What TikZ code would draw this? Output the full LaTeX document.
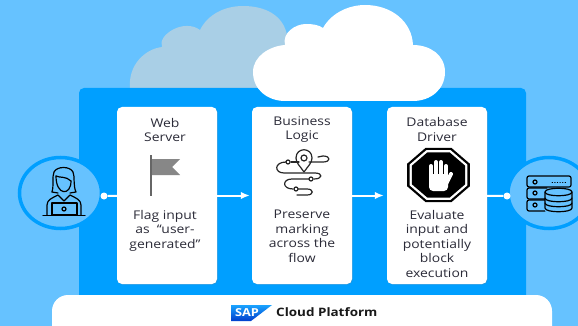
\documentclass[tikz,border=0pt]{standalone}
\usepackage{fontspec}
\setmainfont[FakeStretch=1.16]{Open Sans}
\usetikzlibrary{arrows.meta,shadows}

\definecolor{skyblue}{HTML}{66C2FF}
\definecolor{panelblue}{HTML}{009FFF}
\definecolor{paleblue}{HTML}{A9CFE6}
\definecolor{inkgrey}{HTML}{2B2B38}

\newcommand{\octagon}[3]{\fill [#1, shift={(438.5,175)}] (22.5:#2 and #3)
  \foreach \a in {67.5,112.5,...,337.5} {-- (\a:#2 and #3)} -- cycle;}

\tikzset{
 >={Latex[length=9pt,width=7.5pt]},
 card/.style={draw=none, fill=white, rounded corners=5pt, minimum width=100pt, minimum height=177pt,
   inner sep=0pt, drop shadow={shadow xshift=.6pt, shadow yshift=-.6pt, opacity=.3}},
 round end/.style={draw=panelblue, line width=3.5pt, fill=skyblue},
 head/.style={align=center, text=inkgrey, font=\fontsize{12}{14.6}\selectfont},
 blurb/.style={align=center, text=inkgrey, anchor=north, font=\fontsize{12}{14.6}\selectfont},
 flow/.style={draw=white, line width=2pt},
 dot/.style={circle, fill=white, inner sep=0pt, minimum size=7pt},
 icon/.style={draw=black, line width=1.2pt, line cap=round, line join=round}
}

\begin{document}
\begin{tikzpicture}[x=1pt,y=-1pt]

 \clip (0,0) rectangle (578,326);
 \fill [skyblue] (0,0) rectangle (578,326);

% Clouds
 \fill [paleblue] (130,88) .. controls (128,65) and (145,49) .. (162,47)
   .. controls (157,35) and (184,18) .. (200,30)
   .. controls (208,14) and (225,6) .. (243,6)
   .. controls (265,6) and (283,15) .. (287,35) -- (287,88) -- cycle;

% Panel
 \fill [panelblue, rounded corners=5pt] (79,88) rectangle (526,310);

 \fill [white] (285,101) .. controls (268,101) and (253,90) .. (253,72)
   .. controls (253,56) and (270,46) .. (285,45)
   .. controls (282,33) and (295,24) .. (306,24)
   .. controls (313,24) and (319,25) .. (323,28)
   .. controls (332,12) and (350,5) .. (365,5)
   .. controls (392,5) and (412,22) .. (413,45)
   .. controls (430,45) and (445,55) .. (445,72)
   .. controls (445,90) and (430,101) .. (413,101) -- cycle;

% Ends
 \draw [round end] (60.5,193) ellipse (41 and 35.5);
 \draw [round end] (549,193) ellipse (41 and 35.5);

% Cards
 \node [card] (Web) at (167,195.5) {};
 \node [card] (Logic) at (302,195.5) {};
 \node [card] (Driver) at (437,195.5) {};

 \node [head] (WebHead) at (165,130) {Web\\Server};
 \node [head] (LogicHead) at (302,129.5) {Business\\Logic};
 \node [head] (DriverHead) at (437,129.5) {Database\\Driver};

 \node [blurb] (WebText) at (165,206.5) {Flag input\\as\ \ “user-\\generated”};
 \node [blurb] (LogicText) at (302,206.5) {Preserve\\marking\\across the\\flow};
 \node [blurb] (DriverText) at (437,206.5) {Evaluate\\input and\\potentially\\block\\execution};

% Arrows
 \node [dot] (UserDot) at (104,196) {};
 \node [dot] (DataDot) at (507,196) {};
 \draw [flow] (UserDot) -- (Web);
 \draw [flow, ->, shorten >=2pt] (Web) -- (Logic);
 \draw [flow, ->, shorten >=3pt] (Logic) -- (Driver);
 \draw [flow] (Driver) -- (DataDot);

% Flag
 \fill [black!60] (149.5,155) rectangle (152,196);
 \fill [black!47] (152,159) -- (180,159) -- (172,167) -- (180,175) -- (152,175) -- cycle;

% Pin and route
 \draw [icon, draw=black!85] (304,172) .. controls (300,166) and (296,163) .. (296,158)
   .. controls (296,147) and (312,147) .. (312,158) .. controls (312,163) and (308,166) .. (304,172) -- cycle;
 \draw [icon, draw=black!85] (304,158) circle (3);
 \draw [icon, draw=black!85] (318,157) -- (323,156) .. controls (331,156) and (331,162) .. (323,162) -- (309,162);
 \draw [icon, draw=black!85] (299,162) -- (291,162);
 \draw [icon, draw=black!85] (288,162) circle (2);
 \draw [icon, draw=black!85] (286,162) .. controls (274,162) and (274,173) .. (284,173) -- (315,173)
   .. controls (323,173) and (323,179) .. (314,179);
 \draw [icon, draw=black!85] (311,179) circle (2);
 \draw [icon, draw=black!85] (309,179) -- (292,179) .. controls (282,179) and (282,189) .. (293,189);
 \draw [icon, draw=black!85] (296,189) circle (2);
 \draw [icon, draw=black!85] (298,189) -- (307,189) .. controls (314,189) and (314,195) .. (307,195) -- (297,195);

% Stop sign
 \octagon{black}{34}{29.3}
 \octagon{white}{31.3}{27}
 \octagon{black}{28.7}{24.6}
 \foreach \fx/\ftop in {431/166,436/162,441/162,446/166}
   \draw [white, line width=4pt, line cap=round] (\fx,\ftop) -- (\fx,178);
 \fill [white, rounded corners=4pt] (429,174) rectangle (448,191);
 \draw [white, line width=4pt, line cap=round] (446,184) -- (451,174);

% User
 \draw [icon] (52,192) .. controls (54,186) and (52,176) .. (54,172)
   .. controls (57,166) and (70,166) .. (73,172)
   .. controls (75,176) and (73,186) .. (76,192) -- (70,193);
 \draw [icon] (52,192) -- (58,193);
 \draw [icon] (56,176) .. controls (60,178) and (66,176) .. (71,181);
 \draw [icon] (56,176) .. controls (56,196) and (71,196) .. (71,181);
 \draw [icon] (47,215) -- (47,205) .. controls (47,200) and (52,198) .. (58,195) -- (64,201) -- (70,195)
   .. controls (76,198) and (81,200) .. (81,205) -- (81,215);
 \draw [icon] (52,203) rectangle (77,215);
 \draw [icon] (64,209) circle (2);
 \draw [icon] (43,215.5) -- (85,215.5);

% Database
 \draw [icon, rounded corners=2pt] (527,176) rectangle (571,187);
 \draw [icon, rounded corners=2pt] (545,199) -- (527,199) -- (527,188) -- (547,188);
 \draw [icon, rounded corners=2pt] (545,211) -- (527,211) -- (527,200) -- (545,200);
 \foreach \ly in {182,193,205}
   \draw [icon] (535,\ly) circle (2);
 \draw [icon, line width=.6pt, dotted] (552,182) -- (567,182);
 \fill [skyblue] (545,192) rectangle (572,211);
 \draw [icon] (545,192) .. controls (545,187) and (572,187) .. (572,192)
   .. controls (572,197) and (545,197) .. (545,192) -- cycle;
 \draw [icon] (545,192) -- (545,208) .. controls (545,213) and (572,213) .. (572,208) -- (572,192);
 \draw [icon] (545,198) .. controls (545,203) and (572,203) .. (572,198);
 \draw [icon] (545,203) .. controls (545,208) and (572,208) .. (572,203);

% Platform
 \node [draw=none, fill=white, rounded corners=16pt, minimum width=500pt, minimum height=50pt] (Bar) at (302,320) {};
 \shade [top color=blue!40!cyan!90, bottom color=blue!70!cyan!80!black] (231,305) -- (272,305) -- (251,321) -- (231,321) -- cycle;
 \node [text=white, font=\bfseries\fontsize{11}{11}\selectfont, inner sep=0pt] (Sap) at (247,313) {SAP};
 \node [anchor=west, text=black!90, inner sep=0pt, font=\bfseries\fontsize{11.6}{12}\selectfont] (Platform) at (276,312) {Cloud Platform};

\end{tikzpicture}
\end{document}
